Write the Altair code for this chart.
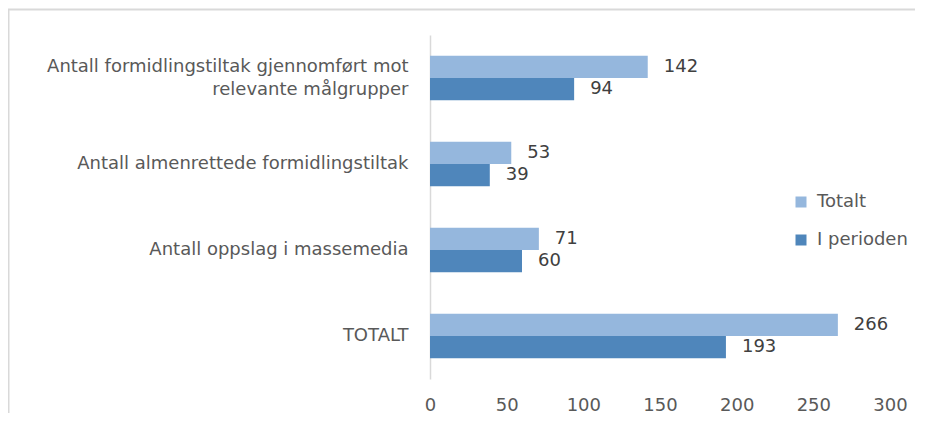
import altair as alt
import pandas as pd

categories = [
    "Antall formidlingstiltak gjennomført mot|relevante målgrupper",
    "Antall almenrettede formidlingstiltak",
    "Antall oppslag i massemedia",
    "TOTALT",
]
series = ["Totalt", "I perioden"]
totalt = [142, 53, 71, 266]
i_perioden = [94, 39, 60, 193]
x_ticks = [0, 50, 100, 150, 200, 250, 300]
colors = ["#95B7DD", "#4F86BB"]

rows = []
for c, t, p in zip(categories, totalt, i_perioden):
    rows.append({"kategori": c, "serie": "Totalt", "verdi": t})
    rows.append({"kategori": c, "serie": "I perioden", "verdi": p})
df = pd.DataFrame(rows)

FONT = "DejaVu Sans"
FS = 18

y_enc = alt.Y(
    "kategori:N",
    sort=categories,
    scale=alt.Scale(paddingInner=0.48, paddingOuter=0.24),
    axis=alt.Axis(
        title=None,
        labelExpr="split(datum.label, '|')",
        labelFont=FONT,
        labelFontSize=FS,
        labelColor="#595959",
        labelLimit=600,
        labelPadding=22,
        labelLineHeight=23,
        labelOffset=alt.condition("indexof(datum.value, '|') >= 0", alt.value(-11.5), alt.value(0)),
        ticks=False,
        domainColor="#D9D9D9",
        domainWidth=1.5,
    ),
)
yoff = alt.YOffset("serie:N", sort=series, scale=alt.Scale(paddingInner=0, paddingOuter=0))
x_enc = alt.X(
    "verdi:Q",
    scale=alt.Scale(domain=[0, 300], nice=False),
    axis=alt.Axis(
        title=None,
        values=x_ticks,
        grid=False,
        domain=False,
        ticks=False,
        labelFlush=False,
        labelFont=FONT,
        labelFontSize=FS,
        labelColor="#595959",
        labelPadding=17,
    ),
)

bars = alt.Chart(df).mark_bar().encode(
    y=y_enc,
    yOffset=yoff,
    x=x_enc,
    color=alt.Color(
        "serie:N",
        sort=series,
        scale=alt.Scale(domain=series, range=colors),
        legend=alt.Legend(
            title=None,
            orient="none",
            legendX=362,
            legendY=158,
            symbolType="square",
            symbolSize=121,
            symbolStrokeWidth=0,
            labelFont=FONT,
            labelFontSize=FS,
            labelColor="#595959",
            rowPadding=20,
            labelOffset=7,
        ),
    ),
)

labels = alt.Chart(df).mark_text(
    align="left", baseline="middle", dx=16, font=FONT, fontSize=FS, color="#404040"
).encode(
    y=alt.Y("kategori:N", sort=categories),
    yOffset=alt.YOffset("serie:N", sort=series),
    x="verdi:Q",
    text="verdi:Q",
)

border_top = alt.Chart(pd.DataFrame({"a": [0]})).mark_rule(color="#D9D9D9", strokeWidth=2).encode(
    x=alt.value(-422), x2=alt.value(520), y=alt.value(-25.5)
)
border_left = alt.Chart(pd.DataFrame({"a": [0]})).mark_rule(color="#D9D9D9", strokeWidth=2).encode(
    x=alt.value(-421.5), y=alt.value(-26), y2=alt.value(380)
)

chart = alt.layer(bars, labels, border_top, border_left).properties(
    width=460,
    height=344,
    autosize=alt.AutoSizeParams(type="none"),
    padding={"left": 422, "top": 27, "right": 25, "bottom": 34},
).configure(background="white", view=alt.ViewConfig(stroke=None))

chart.save("out.html", embed_options={"renderer": "svg", "actions": False})
